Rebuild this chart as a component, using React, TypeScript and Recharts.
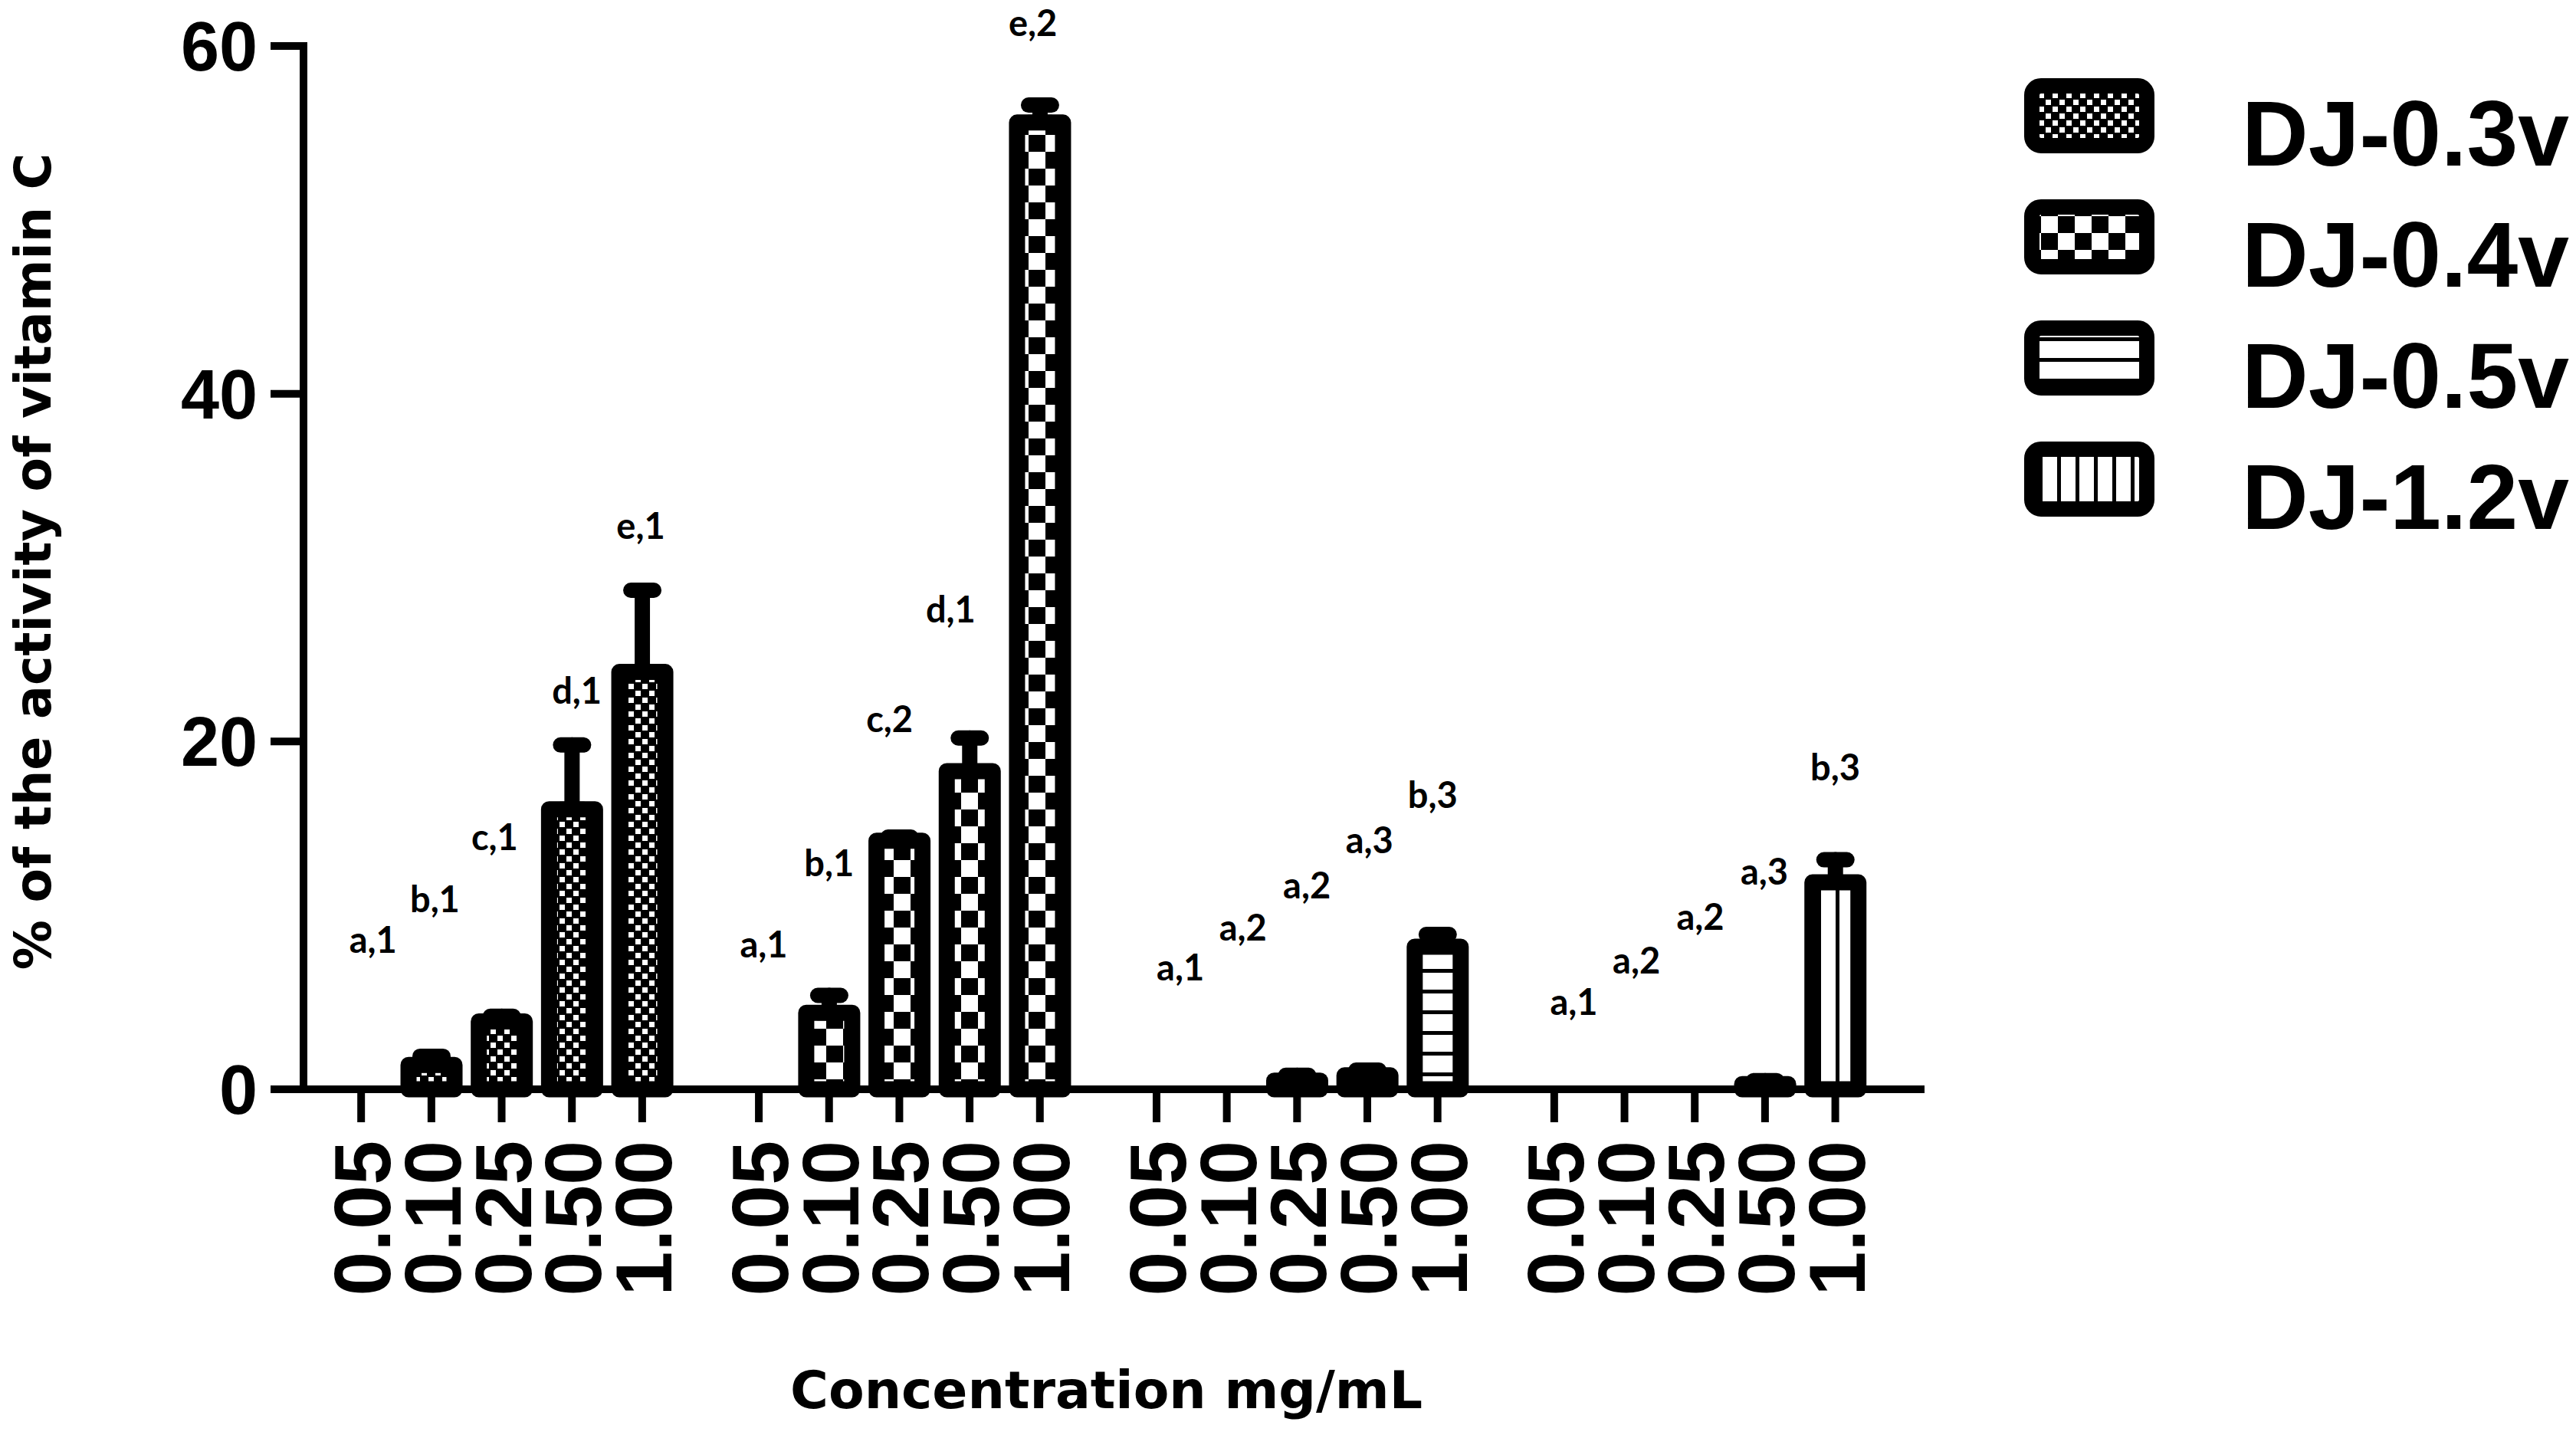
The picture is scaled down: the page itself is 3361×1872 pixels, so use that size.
import React from 'react';
import {
  BarChart, Bar, Cell, XAxis, YAxis, ErrorBar,
  ReferenceDot, Legend, Label,
} from 'recharts';

// ─── data ─────────────────────────────────────────────────────────────────────

const CONCENTRATIONS = ['0.05', '0.10', '0.25', '0.50', '1.00'];
const SERIES         = ['DJ-0.3v', 'DJ-0.4v', 'DJ-0.5v', 'DJ-1.2v'];

// mean % of vitamin C activity, per concentration
const DJ03_MEAN = [0, 1.4, 3.9, 16.1, 24.0];
const DJ04_MEAN = [0, 4.4, 14.3, 18.3, 55.6];
const DJ05_MEAN = [0, 0, 0.5, 0.8, 8.2];
const DJ12_MEAN = [0, 0, 0, 0.3, 11.9];

// upper error (SD), null where no bar is drawn
const DJ03_ERR = [null, 0.5, 0.3, 3.7, 4.7];
const DJ04_ERR = [null, 1.0, 0.2, 1.9, 1.0];
const DJ05_ERR = [null, null, 0.3, 0.3, 0.7];
const DJ12_ERR = [null, null, null, 0.2, 1.3];

// significance letters, the height they sit at and their sideways nudge (in bar slots)
const DJ03_LETTERS = ['a,1', 'b,1', 'c,1', 'd,1', 'e,1'];
const DJ04_LETTERS = ['a,1', 'b,1', 'c,2', 'd,1', 'e,2'];
const DJ05_LETTERS = ['a,1', 'a,2', 'a,2', 'a,3', 'b,3'];
const DJ12_LETTERS = ['a,1', 'a,2', 'a,2', 'a,3', 'b,3'];

const DJ03_LETTER_Y = [8.6, 10.9, 14.5, 22.9, 32.4];
const DJ04_LETTER_Y = [8.3, 13.0, 21.3, 27.6, 61.3];
const DJ05_LETTER_Y = [7.0, 9.3, 11.7, 14.3, 16.9];
const DJ12_LETTER_Y = [5.0, 7.4, 9.9, 12.5, 18.5];

const DJ03_LETTER_NUDGE = [0.17, 0.05, -0.1, 0.07, -0.02];
const DJ04_LETTER_NUDGE = [0.07, 0, -0.14, -0.27, -0.1];
const DJ05_LETTER_NUDGE = [0.34, 0.23, 0.14, 0.03, -0.07];
const DJ12_LETTER_NUDGE = [0.28, 0.17, 0.08, -0.01, 0];

const Y_TICKS = [0, 20, 40, 60];

// ─── layout ───────────────────────────────────────────────────────────────────

const MEANS    = [DJ03_MEAN, DJ04_MEAN, DJ05_MEAN, DJ12_MEAN];
const ERRS     = [DJ03_ERR, DJ04_ERR, DJ05_ERR, DJ12_ERR];
const LETTERS  = [DJ03_LETTERS, DJ04_LETTERS, DJ05_LETTERS, DJ12_LETTERS];
const LETTER_Y = [DJ03_LETTER_Y, DJ04_LETTER_Y, DJ05_LETTER_Y, DJ12_LETTER_Y];
const NUDGES   = [DJ03_LETTER_NUDGE, DJ04_LETTER_NUDGE, DJ05_LETTER_NUDGE, DJ12_LETTER_NUDGE];
const PATTERNS = ['pat03', 'pat04', 'pat05', 'pat12'];

const GROUP_STEP = 5.66; // 5 bars + gap, in bar slots

const rows = SERIES.flatMap((s, g) =>
  CONCENTRATIONS.map((c, i) => ({
    x:       g * GROUP_STEP + i,
    conc:    c,
    group:   g,
    value:   MEANS[g][i],
    err:     ERRS[g][i] == null ? null : [0, ERRS[g][i]],
    letter:  LETTERS[g][i],
    letterX: g * GROUP_STEP + i + NUDGES[g][i],
    letterY: LETTER_Y[g][i],
  })),
);

const TICK_FONT  = '"Liberation Sans", Arial, sans-serif';
const TITLE_FONT = '"DejaVu Sans", Verdana, sans-serif';

function Patterns() {
  return (
    <defs>
      <pattern id="pat03" width="18" height="18" patternUnits="userSpaceOnUse">
        <rect width="18" height="18" fill="#000"/>
        <rect x="1" y="1" width="7" height="7" fill="#fff"/>
        <rect x="10" y="10" width="7" height="7" fill="#fff"/>
      </pattern>
      <pattern id="pat04" width="44" height="44" patternUnits="userSpaceOnUse">
        <rect width="44" height="44" fill="#000"/>
        <rect width="22" height="22" fill="#fff"/>
        <rect x="22" y="22" width="22" height="22" fill="#fff"/>
      </pattern>
      <pattern id="pat05" width="10" height="27" patternUnits="userSpaceOnUse">
        <rect width="10" height="27" fill="#fff"/>
        <rect y="22" width="10" height="5" fill="#000"/>
      </pattern>
      <pattern id="pat12" width="24" height="10" patternUnits="userSpaceOnUse">
        <rect width="24" height="10" fill="#fff"/>
        <rect x="19" width="5" height="10" fill="#000"/>
      </pattern>
    </defs>
  );
}

function ConcTick({ x, y, index }: any) {
  return (
    <text
      x={x}
      y={y}
      dy={38}
      transform={`rotate(-90, ${x}, ${y})`}
      textAnchor="end"
      fontFamily={TICK_FONT}
      fontWeight={700}
      fontSize={104}
      fill="#000"
    >
      {CONCENTRATIONS[index % CONCENTRATIONS.length]}
    </text>
  );
}

function LegendBox() {
  return (
    <div>
      {SERIES.map((s, g) => (
        <div key={s} style={{ position: 'relative', height: 158 }}>
          <svg width={172} height={100} style={{ position: 'absolute', left: 0, top: 0 }}>
            <rect
              x={10} y={10} width={150} height={78} rx={12}
              fill={`url(#${PATTERNS[g]})`}
              stroke="#000" strokeWidth={20}
            />
          </svg>
          <span
            style={{
              position:   'absolute',
              left:       284,
              top:        12,
              fontFamily: TICK_FONT,
              fontWeight: 700,
              fontSize:   120,
              lineHeight: 1,
              color:      '#000',
              whiteSpace: 'nowrap',
            }}
          >
            {s}
          </span>
        </div>
      ))}
    </div>
  );
}

export default function App() {
  return (
    <div style={{ position: 'absolute', left: 0, top: 0, width: 3361, height: 1872, background: '#fff' }}>
      <BarChart
        width={3361}
        height={1872}
        data={rows}
        margin={{ top: 60, right: 850, bottom: 0, left: 0 }}
      >
        <Patterns/>
        <XAxis
          dataKey="x"
          type="number"
          domain={[-0.82, 22.25]}
          ticks={rows.map((r) => r.x)}
          interval={0}
          height={451}
          tickSize={43}
          tickMargin={24}
          tick={<ConcTick/>}
          axisLine={{ stroke: '#000', strokeWidth: 10 }}
          tickLine={{ stroke: '#000', strokeWidth: 10 }}
        >
          <Label
            content={({ viewBox }: any) => (
              <text
                x={viewBox.x + viewBox.width / 2 - 10}
                y={1837}
                textAnchor="middle"
                fontFamily={TITLE_FONT}
                fontWeight={700}
                fontSize={68}
                fill="#000"
              >
                Concentration mg/mL
              </text>
            )}
          />
        </XAxis>
        <YAxis
          type="number"
          domain={[0, 60]}
          ticks={Y_TICKS}
          width={396}
          tickSize={43}
          tickMargin={17}
          tick={{ fontFamily: TICK_FONT, fontWeight: 700, fontSize: 90, fill: '#000' }}
          axisLine={{ stroke: '#000', strokeWidth: 10, strokeLinecap: 'square' }}
          tickLine={{ stroke: '#000', strokeWidth: 10 }}
        >
          <Label
            content={({ viewBox }: any) => {
              const cy = viewBox.y + viewBox.height / 2 - 8;
              return (
                <text
                  x={66}
                  y={cy}
                  transform={`rotate(-90, 66, ${cy})`}
                  textAnchor="middle"
                  fontFamily={TITLE_FONT}
                  fontWeight={700}
                  fontSize={65}
                  fill="#000"
                >
                  % of the activity of vitamin C
                </text>
              );
            }}
          />
        </YAxis>
        <Legend
          layout="vertical"
          align="center"
          verticalAlign="middle"
          wrapperStyle={{ left: 2641, top: 102, width: 720 }}
          content={() => <LegendBox/>}
        />
        <Bar
          dataKey="value"
          barSize={60}
          stroke="#000"
          strokeWidth={21}
          strokeLinejoin="round"
          isAnimationActive={false}
        >
          {rows.map((r) => (
            <Cell key={r.x} fill={`url(#${PATTERNS[r.group]})`}/>
          ))}
          <ErrorBar
            dataKey="err"
            direction="y"
            width={15}
            stroke="#000"
            strokeWidth={20}
            strokeLinecap="round"
            isAnimationActive={false}
          />
        </Bar>
        {rows.map((r) => (
          <ReferenceDot
            key={`lbl-${r.x}`}
            x={r.letterX}
            y={r.letterY}
            r={0}
            ifOverflow="visible"
            label={{
              value:      r.letter,
              position:   'center',
              fill:       '#000',
              fontSize:   47,
              fontWeight: 700,
              fontFamily: 'Lato, sans-serif',
            }}
          />
        ))}
      </BarChart>
    </div>
  );
}
